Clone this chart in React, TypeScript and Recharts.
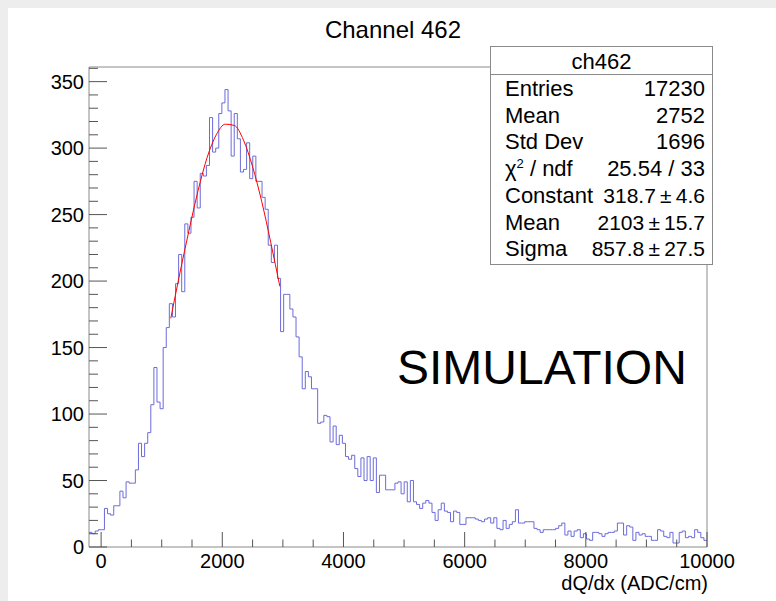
import React from 'react'
import { ComposedChart, Line, XAxis, YAxis, ReferenceArea } from 'recharts'

// histogram binning: 200 bins from -200 to 10000
const binStart = -200
const binWidth = 51

const counts = [
  11, 10, 12, 13, 13, 29, 25, 24, 31, 31,
  42, 37, 49, 48, 48, 58, 78, 68, 78, 86,
  107, 135, 109, 104, 150, 165, 183, 173, 198, 220,
  192, 243, 236, 248, 275, 255, 281, 279, 287, 323,
  297, 300, 326, 334, 344, 328, 294, 326, 307, 282,
  284, 304, 277, 294, 275, 275, 263, 254, 227, 214,
  227, 202, 162, 190, 190, 179, 173, 158, 143, 119,
  132, 128, 119, 119, 93, 94, 99, 98, 79, 91,
  77, 84, 78, 68, 66, 69, 59, 53, 67, 50,
  68, 50, 67, 41, 54, 54, 43, 43, 43, 48,
  49, 40, 49, 34, 50, 34, 32, 29, 33, 35,
  33, 26, 20, 28, 33, 27, 26, 19, 27, 26,
  17, 17, 22, 22, 22, 21, 20, 19, 21, 22,
  18, 22, 14, 13, 20, 14, 17, 19, 28, 18,
  18, 19, 19, 19, 14, 13, 11, 13, 13, 13,
  13, 14, 16, 18, 9, 12, 8, 12, 13, 7,
  10, 6, 5, 11, 11, 10, 8, 10, 11, 11,
  12, 18, 18, 9, 16, 15, 5, 11, 9, 10,
  8, 8, 5, 5, 13, 12, 8, 7, 11, 3,
  3, 11, 12, 7, 8, 7, 13, 11, 7, 5,
]

// red gaussian fit
const fitX = [1150, 1300, 1450, 1600, 1750, 1900, 2050, 2200, 2350, 2500, 2650, 2800, 2950]
const fitY = [172, 206, 238, 268, 293, 310, 318, 317, 306, 286, 260, 229, 196]

const xTicks = [0, 500, 1000, 1500, 2000, 2500, 3000, 3500, 4000, 4500, 5000, 5500, 6000, 6500, 7000, 7500, 8000, 8500, 9000, 9500, 10000]
const yTicks = [0, 10, 20, 30, 40, 50, 60, 70, 80, 90, 100, 110, 120, 130, 140, 150, 160, 170, 180, 190, 200, 210, 220, 230, 240, 250, 260, 270, 280, 290, 300, 310, 320, 330, 340, 350, 360]

const statsTitle = 'ch462'
const statsRows = [
  ['Entries', '17230'],
  ['Mean', '2752'],
  ['Std Dev', '1696'],
  ['chi2', '25.54 / 33'],
  ['Constant', '318.7\u2009±\u20094.6'],
  ['Mean', '2103\u2009±\u200915.7'],
  ['Sigma', '857.8\u2009±\u200927.5'],
]

const histData = [
  ...counts.map((c, i) => ({ x: binStart + binWidth * i, y: c })),
  { x: binStart + binWidth * counts.length, y: counts[counts.length - 1] },
]
const fitData = fitX.map((x, i) => ({ x, f: fitY[i] }))

const font = '"Liberation Sans", Arial, Helvetica, sans-serif'

if (typeof document !== 'undefined') {
  document.body.style.margin = '0'
}

function YTick(props: any) {
  const { x, y, payload } = props
  const major = payload.value % 50 === 0
  return (
    <g>
      <line x1={x} x2={x + (major ? 18 : 9)} y1={y} y2={y} stroke='#555' strokeWidth={1} />
      {major && (
        <text x={x - 5} y={y} textAnchor='end' dominantBaseline='central' fontSize={20} fill='#000' fontFamily={font}>
          {payload.value}
        </text>
      )}
    </g>
  )
}

function XTick(props: any) {
  const { x, y, payload } = props
  const major = payload.value % 2000 === 0
  return (
    <g>
      <line x1={x} x2={x} y1={y} y2={y - (major ? 15 : 7.5)} stroke='#555' strokeWidth={1} />
      {major && (
        <text x={x} y={y + 14} textAnchor='middle' dominantBaseline='central' fontSize={20} fill='#000' fontFamily={font}>
          {payload.value}
        </text>
      )}
    </g>
  )
}

export default function App() {
  return (
    <div style={{ position: 'relative', width: 776, height: 601, background: '#ededed', overflow: 'hidden', fontFamily: font }}>
      <div style={{ position: 'absolute', left: 8, top: 8, width: 768, height: 593, background: '#fff' }}>
        <ComposedChart width={768} height={593} margin={{ top: 59, right: 69, bottom: 0, left: 0 }}>
          <XAxis
            type='number'
            dataKey='x'
            domain={[-200, 10000]}
            ticks={xTicks}
            interval={0}
            tickSize={0}
            tickMargin={0}
            axisLine={false}
            tickLine={false}
            tick={XTick}
            height={54}
            allowDataOverflow
          />
          <YAxis
            type='number'
            domain={[0, 361]}
            ticks={yTicks}
            interval={0}
            tickSize={0}
            tickMargin={0}
            axisLine={false}
            tickLine={false}
            tick={YTick}
            width={81}
            allowDataOverflow
          />
          <ReferenceArea x1={-200} x2={10000} y1={0} y2={361} fill='none' stroke='#8a8a8a' strokeWidth={1} ifOverflow='visible' />
          <Line data={histData} dataKey='y' type='stepAfter' stroke='#6b6bdb' strokeWidth={1} dot={false} isAnimationActive={false} />
          <Line data={fitData} dataKey='f' type='monotone' stroke='#ff0000' strokeWidth={1} dot={false} isAnimationActive={false} />
        </ComposedChart>
      </div>

      <div style={{ position: 'absolute', left: 293, width: 200, top: 16, textAlign: 'center', fontSize: 24, lineHeight: '28px' }}>Channel 462</div>

      <div style={{ position: 'absolute', left: 397, top: 344, fontSize: 48, lineHeight: '48px', whiteSpace: 'nowrap' }}>SIMULATION</div>

      <div style={{ position: 'absolute', right: 776 - 708, top: 575, fontSize: 20, lineHeight: '16px', whiteSpace: 'nowrap' }}>dQ/dx (ADC/cm)</div>

      <div
        style={{
          position: 'absolute',
          left: 490,
          top: 46,
          width: 221,
          height: 217,
          background: '#fff',
          border: '1px solid #8a8a8a',
          fontSize: 22,
        }}
      >
        <div style={{ height: 27, borderBottom: '1px solid #8a8a8a', textAlign: 'center', lineHeight: '30px' }}>{statsTitle}</div>
        {statsRows.map(([k, v], i) => (
          <div
            key={i}
            style={{
              position: 'absolute',
              left: 14,
              right: 7,
              top: 29 + i * 26.7,
              height: 26,
              lineHeight: '26px',
              display: 'flex',
              justifyContent: 'space-between',
              whiteSpace: 'nowrap',
            }}
          >
            <span>
              {k === 'chi2' ? (
                <>
                  χ<sup style={{ fontSize: 13, verticalAlign: 'top', lineHeight: '16px' }}>2</sup> / ndf
                </>
              ) : (
                k
              )}
            </span>
            <span style={{ fontSize: i >= 4 ? 21 : 22 }}>{v}</span>
          </div>
        ))}
      </div>
    </div>
  )
}
